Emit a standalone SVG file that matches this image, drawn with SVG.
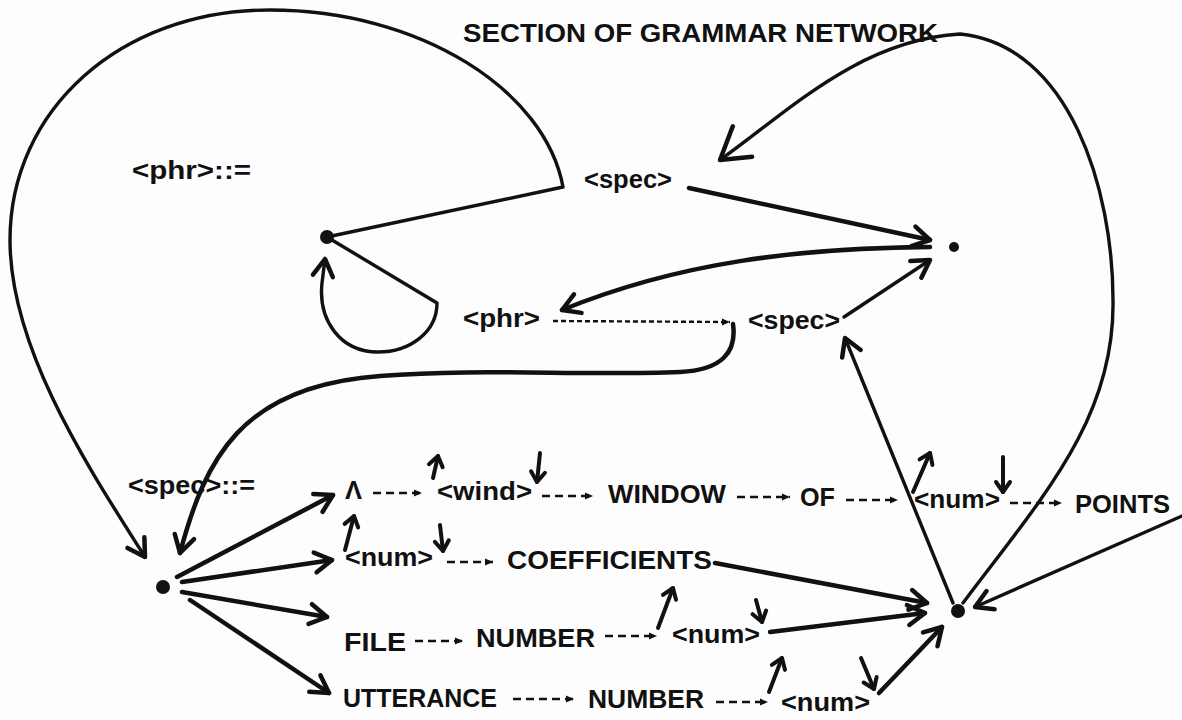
<svg xmlns="http://www.w3.org/2000/svg" width="1182" height="720" viewBox="0 0 1182 720">
<style>
  text { font-family: "Liberation Sans", Arial, sans-serif; font-weight: bold; fill: #111; font-size: 25px; }
  .ttl { font-size: 25px; }
  .ln { fill: none; stroke: #111; stroke-width: 4.5; stroke-linecap: round; stroke-linejoin: round; }
  .thin { stroke-width: 3.4; }
  .mini { fill: none; stroke: #111; stroke-width: 4; stroke-linecap: round; }
  .dsh { fill: none; stroke: #111; stroke-width: 2.4; stroke-dasharray: 8 5; }
  .dsh2 { fill: none; stroke: #111; stroke-width: 2.4; stroke-dasharray: 5 3; }
  .dot { fill: #111; }
</style>
<defs>
  <marker id="arr" markerUnits="userSpaceOnUse" viewBox="-22 -14 26 28" markerWidth="26" markerHeight="28" refX="0" refY="0" orient="auto" overflow="visible">
    <path d="M -17 -10 L 0 0 L -17 10" fill="none" stroke="#111" stroke-width="4.5" stroke-linecap="round" stroke-linejoin="round"/>
  </marker>
  <marker id="big" markerUnits="userSpaceOnUse" viewBox="-34 -22 38 44" markerWidth="38" markerHeight="44" refX="0" refY="0" orient="auto" overflow="visible">
    <path d="M -28 -16 L 0 0 L -30 20" fill="none" stroke="#111" stroke-width="4.5" stroke-linecap="round" stroke-linejoin="round"/>
  </marker>
  <marker id="sm" markerUnits="userSpaceOnUse" viewBox="-14 -10 18 20" markerWidth="18" markerHeight="20" refX="0" refY="0" orient="auto" overflow="visible">
    <path d="M -10 -7 L 0 0 L -10 7" fill="none" stroke="#111" stroke-width="4" stroke-linecap="round" stroke-linejoin="round"/>
  </marker>
  <marker id="tri" markerUnits="userSpaceOnUse" viewBox="-9 -5 11 10" markerWidth="11" markerHeight="10" refX="0" refY="0" orient="auto" overflow="visible">
    <path d="M -8 -3.5 L 0 0 L -8 3.5 Z" fill="#111"/>
  </marker>
</defs>
<rect x="0" y="0" width="1182" height="720" fill="#fdfdfd"/>

<g id="connectors">
  <!-- phr network -->
  <path class="ln thin" d="M 327 237 L 563 187 C 545 90 420 10 270 10 C 120 10 10 110 10 240 C 10 350 90 470 145 557" marker-end="url(#arr)"/>
  <path class="ln thin" d="M 327 237 L 437 303 C 437 332 410 352 378 352 C 340 352 318 320 322 283 L 325 259" marker-end="url(#arr)"/>
  <path class="ln" d="M 689 188 L 930 240" marker-end="url(#arr)"/>
  <path class="ln" d="M 930 247 C 800 248 680 262 562 310" marker-end="url(#arr)"/>
  <path class="dsh2" d="M 553 321 L 730 322" marker-end="url(#tri)"/>
  <path class="ln" d="M 733 324 C 737 352 722 370 680 372 C 580 376 480 368 380 376 C 240 386 205 460 180 553" marker-end="url(#arr)"/>
  <path class="ln thin" d="M 844 317 L 930 260" marker-end="url(#arr)"/>
  <path class="ln thin" d="M 953 603 L 845 338" marker-end="url(#arr)"/>
  <path class="ln thin" d="M 963 603 C 1040 500 1115 420 1113 300 C 1113 190 1070 45 960 34 C 860 40 790 110 720 160" marker-end="url(#big)"/>
  <!-- spec network fan -->
  <path class="ln" d="M 177 577 L 333 495" marker-end="url(#arr)"/>
  <path class="ln" d="M 182 582 L 332 560" marker-end="url(#arr)"/>
  <path class="ln" d="M 182 592 L 327 617" marker-end="url(#arr)"/>
  <path class="ln" d="M 190 600 L 329 693" marker-end="url(#arr)"/>
  <!-- row 1 -->
  <path class="dsh" d="M 373 493 L 422 493" marker-end="url(#tri)"/>
  <path class="dsh" d="M 542 496 L 593 496" marker-end="url(#tri)"/>
  <path class="dsh" d="M 737 497 L 790 497" marker-end="url(#tri)"/>
  <path class="dsh" d="M 846 500 L 898 500" marker-end="url(#tri)"/>
  <path class="dsh" d="M 1010 503 L 1062 503" marker-end="url(#tri)"/>
  <path class="mini" d="M 433 478 L 438 456" marker-end="url(#sm)"/>
  <path class="mini" d="M 540 453 L 537 482" marker-end="url(#sm)"/>
  <path class="mini" d="M 913 492 L 930 453" marker-end="url(#sm)"/>
  <path class="mini" d="M 1003 457 L 1003 492" marker-end="url(#sm)"/>
  <!-- row 2 -->
  <path class="mini" d="M 345 550 L 354 516" marker-end="url(#sm)"/>
  <path class="mini" d="M 440 525 L 443 551" marker-end="url(#sm)"/>
  <path class="dsh" d="M 447 562 L 493 562" marker-end="url(#tri)"/>
  <path class="ln" d="M 715 563 L 927 603" marker-end="url(#arr)"/>
  <!-- row 3 -->
  <path class="dsh" d="M 415 641 L 463 641" marker-end="url(#tri)"/>
  <path class="dsh" d="M 605 636 L 657 636" marker-end="url(#tri)"/>
  <path class="mini" d="M 658 628 L 673 588" marker-end="url(#sm)"/>
  <path class="mini" d="M 756 600 L 762 622" marker-end="url(#sm)"/>
  <path class="ln" d="M 770 632 L 925 613" marker-end="url(#arr)"/>
  <!-- row 4 -->
  <path class="dsh" d="M 513 699 L 574 699" marker-end="url(#tri)"/>
  <path class="dsh" d="M 716 702 L 768 702" marker-end="url(#tri)"/>
  <path class="mini" d="M 769 692 L 782 658" marker-end="url(#sm)"/>
  <path class="mini" d="M 861 658 L 874 689" marker-end="url(#sm)"/>
  <path class="ln" d="M 879 693 L 942 627" marker-end="url(#arr)"/>
  <!-- from right edge -->
  <path class="ln thin" d="M 1182 516 L 975 607" marker-end="url(#arr)"/>
</g>

<g id="title"><text class="ttl" x="463" y="42" textLength="475" lengthAdjust="spacingAndGlyphs">SECTION OF GRAMMAR NETWORK</text></g>

<g id="n-phr-def"><text x="132" y="179" textLength="119" lengthAdjust="spacingAndGlyphs">&lt;phr&gt;::=</text></g>
<g id="n-dot-phr-start"><circle class="dot" cx="327" cy="237" r="7"/></g>
<g id="n-spec-top"><text x="584" y="188" textLength="88" lengthAdjust="spacingAndGlyphs">&lt;spec&gt;</text></g>
<g id="n-dot-phr-end"><circle class="dot" cx="954" cy="247" r="5"/></g>
<g id="n-phr-mid"><text x="463" y="327" textLength="77" lengthAdjust="spacingAndGlyphs">&lt;phr&gt;</text></g>
<g id="n-spec-mid"><text x="748" y="329" textLength="92" lengthAdjust="spacingAndGlyphs">&lt;spec&gt;</text></g>

<g id="n-spec-def"><text x="128" y="494" textLength="127" lengthAdjust="spacingAndGlyphs">&lt;spec&gt;::=</text></g>
<g id="n-dot-spec-start"><circle class="dot" cx="163" cy="587" r="7"/></g>
<g id="n-dot-spec-end"><circle class="dot" cx="958" cy="611" r="7"/></g>

<g id="n-lambda"><text x="345" y="499" textLength="17" lengthAdjust="spacingAndGlyphs">Λ</text></g>
<g id="n-wind"><text x="437" y="500" textLength="95" lengthAdjust="spacingAndGlyphs">&lt;wind&gt;</text></g>
<g id="n-window"><text x="608" y="503" textLength="118" lengthAdjust="spacingAndGlyphs">WINDOW</text></g>
<g id="n-of"><text x="800" y="506" textLength="35" lengthAdjust="spacingAndGlyphs">OF</text></g>
<g id="n-num1"><text x="914" y="508" textLength="86" lengthAdjust="spacingAndGlyphs">&lt;num&gt;</text></g>
<g id="n-points"><text x="1075" y="513" textLength="95" lengthAdjust="spacingAndGlyphs">POINTS</text></g>

<g id="n-num2"><text x="345" y="566" textLength="88" lengthAdjust="spacingAndGlyphs">&lt;num&gt;</text></g>
<g id="n-coeff"><text x="507" y="569" textLength="205" lengthAdjust="spacingAndGlyphs">COEFFICIENTS</text></g>

<g id="n-file"><text x="344" y="651" textLength="62" lengthAdjust="spacingAndGlyphs">FILE</text></g>
<g id="n-number3"><text x="476" y="647" textLength="119" lengthAdjust="spacingAndGlyphs">NUMBER</text></g>
<g id="n-num3"><text x="672" y="643" textLength="88" lengthAdjust="spacingAndGlyphs">&lt;num&gt;</text></g>

<g id="n-utterance"><text x="343" y="707" textLength="154" lengthAdjust="spacingAndGlyphs">UTTERANCE</text></g>
<g id="n-number4"><text x="588" y="708" textLength="116" lengthAdjust="spacingAndGlyphs">NUMBER</text></g>
<g id="n-num4"><text x="781" y="711" textLength="89" lengthAdjust="spacingAndGlyphs">&lt;num&gt;</text></g>
</svg>
